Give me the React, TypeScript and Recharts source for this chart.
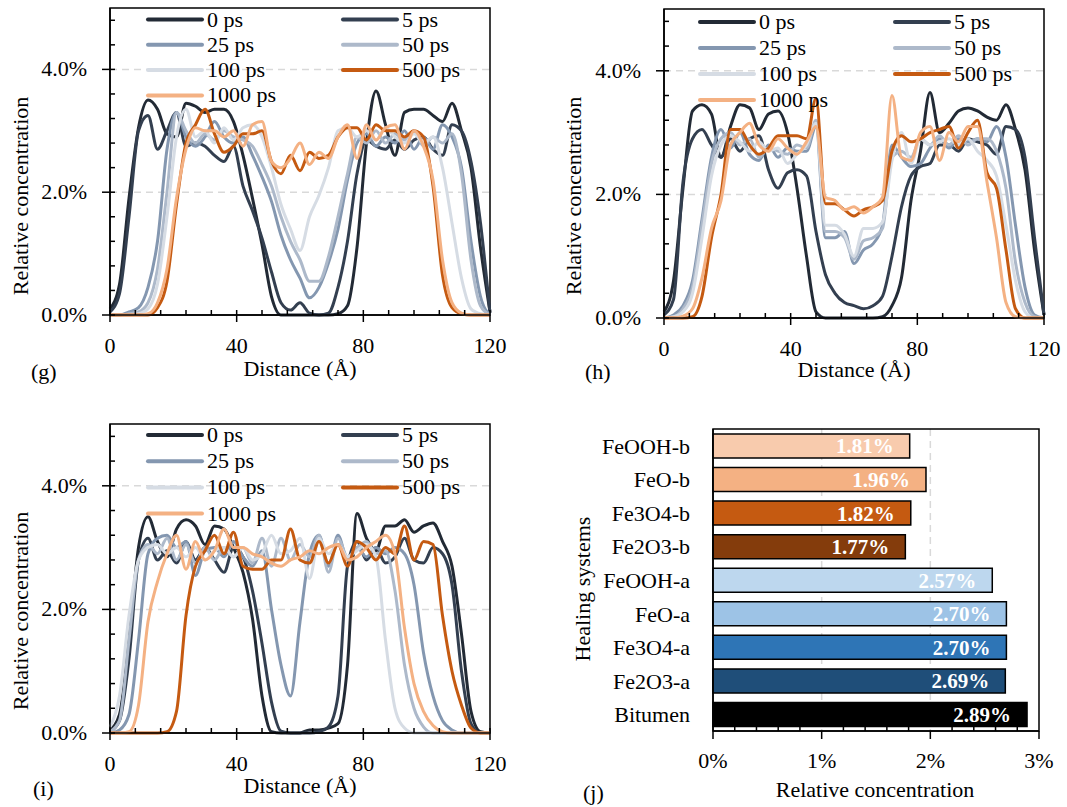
import React from 'react';
import {
  LineChart,
  Line,
  XAxis,
  YAxis,
  CartesianGrid,
  ReferenceArea,
  BarChart,
  Bar,
  Cell,
  LabelList,
} from 'recharts';

const FONT = '"Liberation Serif", "Times New Roman", serif';

// ---------- shared axis values ----------
const DISTANCE = [0, 3, 6, 9, 12, 15, 18, 21, 24, 27, 30, 33, 36, 39, 42, 45, 48, 51, 54, 57, 60, 63, 66, 69, 72, 75, 78, 81, 84, 87, 90, 93, 96, 99, 102, 105, 108, 111, 114, 117, 120];
const X_TICKS = [0, 8, 16, 24, 32, 40, 48, 56, 64, 72, 80, 88, 96, 104, 112, 120];
const Y_TICKS = [0, 0.4, 0.8, 1.2, 1.6, 2, 2.4, 2.8, 3.2, 3.6, 4, 4.4, 4.8];
const TIME_LABELS = ['0 ps', '5 ps', '25 ps', '50 ps', '100 ps', '500 ps', '1000 ps'];
const TIME_COLORS = ['#222A35', '#333F50', '#8497B0', '#ADB9CA', '#D6DCE4', '#C55A11', '#F4B183'];

// ---------- panel (g) ----------
const G_0PS = [0.1, 0.5, 1.9, 3.05, 3.5, 3.35, 2.95, 2.9, 3.45, 3.4, 3.3, 3.35, 3.35, 3.15, 2.6, 1.9, 1.15, 0.3, 0, 0, 0, 0, 0, 0, 0.02, 0.15, 1.1, 2.8, 3.65, 3.1, 2.6, 3.3, 3.35, 3.35, 3.25, 3.15, 3.45, 3.0, 2.4, 1.1, 0.05];
const G_5PS = [0.05, 0.35, 1.6, 3.0, 3.25, 2.7, 3.0, 3.3, 2.75, 2.8, 2.75, 2.6, 2.5, 2.75, 2.1, 1.7, 1.25, 0.7, 0.2, 0.08, 0.2, 0.03, 0, 0.03, 0.45, 1.2, 2.3, 2.85, 2.75, 2.7, 2.85, 2.7, 2.85, 2.9, 2.7, 2.6, 3.1, 3.0, 2.5, 1.5, 0.03];
const G_25PS = [0, 0, 0.05, 0.12, 0.45, 1.2, 2.7, 3.3, 2.9, 2.75, 2.9, 3.15, 2.9, 2.8, 2.9, 2.6, 2.25, 1.85, 1.3, 0.9, 0.6, 0.28, 0.45, 0.85, 1.4, 2.2, 2.8, 2.95, 2.75, 2.9, 2.8, 3.0, 2.7, 2.9, 2.7, 3.1, 2.9, 2.4, 1.2, 0.3, 0];
const G_50PS = [0, 0, 0.02, 0.05, 0.2, 0.75, 2.0, 3.3, 3.0, 2.8, 2.95, 2.85, 3.0, 2.9, 2.85, 2.75, 2.45, 2.1, 1.6, 1.2, 0.9, 0.55, 0.55, 0.95, 1.6, 2.3, 2.9, 2.8, 3.0, 2.8, 2.95, 2.85, 3.0, 2.75, 2.9, 2.8, 2.95, 2.3, 0.9, 0.15, 0];
const G_100PS = [0, 0, 0, 0.02, 0.1, 0.5, 1.6, 2.9, 3.35, 2.9, 3.0, 2.8, 3.05, 2.85, 3.05, 3.1, 2.9, 2.4, 1.8, 1.4, 1.05, 1.6, 1.95, 2.4, 3.0, 3.05, 2.9, 3.0, 2.85, 3.05, 2.9, 2.8, 2.95, 2.8, 2.9, 2.4, 1.5, 0.6, 0.1, 0.02, 0];
const G_500PS = [0, 0, 0, 0, 0, 0.12, 0.55, 1.8, 2.8, 3.1, 3.35, 2.95, 2.65, 2.75, 2.95, 2.95, 3.0, 2.5, 2.3, 2.6, 2.35, 2.65, 2.55, 2.6, 2.9, 3.05, 3.05, 2.85, 3.1, 3.0, 3.0, 2.9, 3.0, 2.9, 2.1, 0.65, 0.12, 0.02, 0, 0, 0];
const G_1000PS = [0, 0, 0, 0, 0.02, 0.2, 0.75, 1.9, 2.7, 3.05, 3.0, 3.0, 2.9, 3.0, 2.75, 3.1, 3.15, 2.5, 2.4, 2.55, 2.8, 2.45, 2.65, 2.55, 2.9, 3.1, 2.55, 3.1, 2.85, 3.05, 3.1, 2.7, 3.0, 2.75, 2.2, 0.9, 0.2, 0.03, 0, 0, 0];

// ---------- panel (h) ----------
const H_0PS = [0.1, 0.6, 2.1, 3.35, 3.45, 3.3, 2.6, 3.1, 3.45, 3.4, 3.05, 3.3, 3.35, 3.0, 2.1, 1.0, 0.1, 0, 0, 0, 0, 0, 0, 0.02, 0.2, 0.65, 1.9, 2.7, 3.65, 3.0, 3.15, 3.35, 3.4, 3.35, 3.25, 3.2, 3.45, 3.05, 2.4, 1.1, 0.05];
const H_5PS = [0.05, 0.3, 2.2, 2.9, 3.05, 2.8, 2.6, 2.9, 2.7, 2.9, 2.95, 2.4, 2.1, 2.35, 2.4, 2.3, 1.4, 0.7, 0.4, 0.25, 0.2, 0.15, 0.2, 0.35, 1.0, 1.8, 2.3, 2.45, 2.5, 2.8, 2.8, 2.7, 2.9, 2.85, 2.8, 2.65, 3.1, 3.05, 2.6, 1.3, 0.05];
const H_25PS = [0, 0.05, 0.2, 0.6, 1.6, 2.6, 3.05, 2.75, 3.0, 2.65, 2.55, 2.8, 2.6, 2.75, 2.7, 2.7, 3.1, 1.3, 1.3, 1.4, 0.88, 1.1, 1.2, 1.5, 2.8, 2.6, 2.45, 2.5, 2.75, 2.9, 2.75, 2.9, 2.85, 2.9, 2.85, 3.1, 2.6, 1.5, 0.5, 0.05, 0];
const H_50PS = [0, 0.02, 0.15, 0.5, 1.5, 2.5, 2.9, 3.0, 2.8, 2.9, 2.6, 2.75, 2.7, 2.65, 2.8, 2.75, 3.2, 1.4, 1.4, 1.3, 0.95, 1.25, 1.3, 1.45, 2.6, 2.7, 2.6, 2.9, 2.8, 2.95, 2.8, 2.95, 2.8, 2.9, 2.9, 2.7, 2.1, 0.9, 0.25, 0.02, 0];
const H_100PS = [0, 0.02, 0.1, 0.4, 1.3, 2.3, 2.8, 2.95, 2.85, 2.7, 2.85, 2.7, 2.75, 2.5, 2.65, 2.8, 3.15, 1.5, 1.5, 1.35, 1.0, 1.45, 1.45, 1.55, 2.55, 3.0, 2.5, 2.9, 2.8, 2.85, 2.9, 2.8, 2.9, 2.7, 2.55, 2.3, 1.5, 0.6, 0.1, 0, 0];
const H_500PS = [0, 0, 0, 0.02, 0.35, 1.3, 2.0, 3.05, 3.05, 2.8, 2.65, 2.75, 2.95, 2.95, 2.95, 2.9, 3.55, 1.85, 1.85, 1.75, 1.65, 1.75, 1.8, 1.9, 2.7, 2.95, 2.85, 2.9, 3.0, 3.05, 3.1, 2.75, 3.0, 3.2, 2.35, 2.1, 1.1, 0.15, 0, 0, 0];
const H_1000PS = [0, 0, 0.03, 0.15, 0.65, 1.45, 1.9, 2.8, 3.0, 3.15, 2.8, 2.7, 2.9, 2.75, 2.65, 2.85, 3.1, 1.95, 1.9, 1.75, 1.8, 1.7, 1.8, 1.95, 3.6, 2.6, 2.55, 3.0, 3.1, 2.55, 3.0, 2.85, 3.1, 3.1, 2.2, 1.3, 0.25, 0.02, 0, 0, 0];

// ---------- panel (i) ----------
const I_0PS = [0.05, 0.3, 1.5, 3.0, 3.5, 3.1, 2.85, 3.3, 3.45, 3.35, 3.05, 3.35, 3.3, 3.0, 2.6, 1.85, 0.6, 0.02, 0, 0, 0, 0.05, 0.05, 0.08, 0.15, 1.1, 3.55, 3.15, 2.95, 3.35, 3.35, 3.45, 3.25, 3.35, 3.4, 3.1, 2.7, 1.6, 0.35, 0.02, 0];
const I_5PS = [0.02, 0.2, 1.2, 2.8, 3.15, 2.8, 2.95, 2.75, 3.1, 2.8, 3.0, 2.8, 2.6, 3.0, 2.85, 2.3, 1.45, 0.5, 0.03, 0, 0, 0, 0.02, 0.1, 0.6, 2.7, 3.1, 2.8, 3.0, 2.75, 2.85, 3.15, 2.8, 2.75, 3.0, 2.9, 2.4, 1.0, 0.15, 0, 0];
const I_25PS = [0, 0.05, 0.3, 1.5, 2.9, 3.15, 3.2, 3.0, 3.1, 2.55, 2.95, 3.0, 2.85, 3.1, 2.85, 2.7, 2.95, 2.0, 1.1, 0.6, 1.8, 2.9, 3.2, 2.7, 3.2, 2.8, 3.0, 2.85, 3.0, 2.9, 3.0, 2.9, 2.4, 1.3, 0.6, 0.2, 0.05, 0, 0, 0, 0];
const I_50PS = [0.02, 0.2, 1.5, 2.8, 3.05, 2.9, 3.15, 2.8, 3.05, 2.75, 3.0, 2.8, 3.0, 2.85, 3.0, 2.75, 3.15, 2.7, 3.15, 2.8, 3.05, 2.85, 3.2, 2.6, 3.15, 2.85, 3.0, 3.1, 2.9, 2.95, 2.3, 1.1, 0.4, 0.1, 0, 0, 0, 0, 0, 0, 0];
const I_100PS = [0.1, 0.6, 1.9, 2.8, 3.0, 3.05, 2.9, 3.0, 2.85, 3.0, 2.8, 2.95, 3.0, 2.85, 3.0, 2.8, 2.9, 3.2, 2.9, 2.95, 3.15, 2.5, 3.15, 2.9, 3.05, 2.85, 2.95, 3.05, 2.85, 1.5, 0.4, 0.08, 0, 0, 0, 0, 0, 0, 0, 0, 0];
const I_500PS = [0, 0, 0, 0, 0, 0, 0.02, 0.35, 1.9, 2.7, 2.95, 3.2, 2.9, 3.25, 2.7, 2.65, 2.65, 2.8, 2.8, 3.3, 2.8, 2.75, 3.1, 2.75, 3.05, 2.7, 3.1, 3.0, 2.8, 3.0, 2.9, 3.35, 2.8, 3.1, 3.05, 1.9, 1.0, 0.45, 0.08, 0, 0];
const I_1000PS = [0, 0, 0.02, 0.45, 1.8, 2.45, 2.9, 3.2, 2.65, 3.1, 2.8, 2.95, 3.3, 3.0, 3.0, 2.9, 2.85, 2.75, 2.7, 2.8, 2.85, 2.95, 2.9, 3.0, 3.05, 2.8, 2.85, 3.0, 3.1, 3.2, 2.9, 1.7, 0.8, 0.35, 0.12, 0.02, 0, 0, 0, 0, 0];

// ---------- panel (j) ----------
const SYSTEMS = ['FeOOH-b', 'FeO-b', 'Fe3O4-b', 'Fe2O3-b', 'FeOOH-a', 'FeO-a', 'Fe3O4-a', 'Fe2O3-a', 'Bitumen'];
const SYSTEM_VALUES = [1.81, 1.96, 1.82, 1.77, 2.57, 2.7, 2.7, 2.69, 2.89];
const SYSTEM_COLORS = ['#F8CBAD', '#F4B183', '#C55A11', '#843C0C', '#BDD7EE', '#9DC3E6', '#2E75B6', '#1F4E79', '#000000'];
const BAR_X_TICKS = [0, 0.2, 0.4, 0.6, 0.8, 1, 1.2, 1.4, 1.6, 1.8, 2, 2.2, 2.4, 2.6, 2.8, 3];

const SERIES_KEYS = ['s0', 's5', 's25', 's50', 's100', 's500', 's1000'];

function buildRows(series: number[][]) {
  return DISTANCE.map((d, i) => {
    const row: Record<string, number> = { d };
    SERIES_KEYS.forEach((k, j) => {
      row[k] = series[j][i];
    });
    return row;
  });
}

const G_DATA = buildRows([G_0PS, G_5PS, G_25PS, G_50PS, G_100PS, G_500PS, G_1000PS]);
const H_DATA = buildRows([H_0PS, H_5PS, H_25PS, H_50PS, H_100PS, H_500PS, H_1000PS]);
const I_DATA = buildRows([I_0PS, I_5PS, I_25PS, I_50PS, I_100PS, I_500PS, I_1000PS]);
const BAR_DATA = SYSTEMS.map((name, i) => ({ name, value: SYSTEM_VALUES[i] }));

const TXT = { fontFamily: FONT, fontSize: 22, fill: '#000' };

const renderLineYTick = (p: any) => {
  const v = Number(p.payload.value);
  const major = Math.abs(v / 2 - Math.round(v / 2)) < 1e-6;
  return (
    <g>
      <line x1={major ? p.x - 8 : p.x} x2={p.x + 5} y1={p.y} y2={p.y} stroke="#000" strokeWidth={1.5} />
      {major && (
        <text x={p.x - 23} y={p.y + 7} textAnchor="end" {...TXT}>
          {v.toFixed(1)}%
        </text>
      )}
    </g>
  );
};

const renderLineXTick = (p: any) => {
  const v = Number(p.payload.value);
  const major = v % 40 === 0;
  return (
    <g>
      <line x1={p.x} x2={p.x} y1={p.y - 5} y2={major ? p.y + 7 : p.y} stroke="#000" strokeWidth={1.5} />
      {major && (
        <text x={p.x} y={p.y + 38} textAnchor="middle" {...TXT}>
          {v}
        </text>
      )}
    </g>
  );
};

const renderBarXTick = (p: any) => {
  const v = Number(p.payload.value);
  const major = Math.abs(v - Math.round(v)) < 1e-6;
  return (
    <g>
      <line x1={p.x} x2={p.x} y1={major ? p.y : p.y - 5} y2={major ? p.y + 8 : p.y} stroke="#000" strokeWidth={1.5} />
      {major && (
        <text x={p.x} y={p.y + 37} textAnchor="middle" {...TXT}>
          {Math.round(v)}%
        </text>
      )}
    </g>
  );
};

const renderBarYTick = (p: any) => (
  <g>
    <text x={p.x - 23} y={p.y + 8} textAnchor="end" {...TXT}>
      {p.payload.value}
    </text>
  </g>
);

function ConcentrationChart(props: { data: any[]; width: number; height: number; top: number; right: number; xHeight: number }) {
  const { data, width, height, top, right, xHeight } = props;
  return (
    <LineChart width={width} height={height} data={data} margin={{ top, right, bottom: 0, left: 0 }}>
      <CartesianGrid vertical={false} horizontalValues={[2, 4]} stroke="#D9D9D9" strokeDasharray="7 5" strokeWidth={1.5} />
      <XAxis
        dataKey="d"
        type="number"
        domain={[0, 120]}
        ticks={X_TICKS}
        interval={0}
        tickSize={0}
        tickMargin={0}
        tickLine={false}
        axisLine={{ stroke: '#000', strokeWidth: 1.5 }}
        tick={renderLineXTick}
        height={xHeight}
      />
      <YAxis
        type="number"
        domain={[0, 5]}
        ticks={Y_TICKS}
        interval={0}
        tickSize={0}
        tickMargin={0}
        tickLine={false}
        axisLine={{ stroke: '#000', strokeWidth: 1.5 }}
        tick={renderLineYTick}
        width={110}
      />
      <ReferenceArea x1={0} x2={120} y1={0} y2={5} fill="none" fillOpacity={0} stroke="#000" strokeWidth={1.5} />
      {SERIES_KEYS.map((k, i) => (
        <Line
          key={k}
          dataKey={k}
          name={TIME_LABELS[i]}
          type="monotone"
          stroke={TIME_COLORS[i]}
          strokeWidth={3}
          dot={false}
          activeDot={false}
          isAnimationActive={false}
        />
      ))}
    </LineChart>
  );
}

function LegendBlock(props: { left: number; top: number; gap: number }) {
  const { left, top, gap } = props;
  return (
    <g>
      {TIME_LABELS.map((label, i) => {
        const lx = left + (i % 2) * 195;
        const ly = top + Math.floor(i / 2) * gap;
        return (
          <g key={label}>
            <line x1={lx} x2={lx + 54} y1={ly} y2={ly} stroke={TIME_COLORS[i]} strokeWidth={4} strokeLinecap="round" />
            <text x={lx + 59} y={ly + 7} {...TXT}>
              {label}
            </text>
          </g>
        );
      })}
    </g>
  );
}

export default function App() {
  return (
    <div style={{ position: 'absolute', left: 0, top: 0, width: 1067, height: 807, background: '#fff', fontFamily: FONT, overflow: 'hidden' }}>
      <svg width={1067} height={807} style={{ position: 'absolute', left: 0, top: 0 }}>
        <text transform="translate(28,196) rotate(-90)" textAnchor="middle" {...TXT}>Relative concentration</text>
        <text x={300} y={376} textAnchor="middle" {...TXT}>Distance (Å)</text>
        <text x={31} y={379} {...TXT}>(g)</text>

        <text transform="translate(581,196) rotate(-90)" textAnchor="middle" {...TXT}>Relative concentration</text>
        <text x={854} y={377} textAnchor="middle" {...TXT}>Distance (Å)</text>
        <text x={585} y={379} {...TXT}>(h)</text>

        <text transform="translate(28,611) rotate(-90)" textAnchor="middle" {...TXT}>Relative concentration</text>
        <text x={300} y={793} textAnchor="middle" {...TXT}>Distance (Å)</text>
        <text x={33} y={796} {...TXT}>(i)</text>

        <text transform="translate(590,589) rotate(-90)" textAnchor="middle" {...TXT}>Healing systems</text>
        <text x={875} y={797} textAnchor="middle" {...TXT}>Relative concentration</text>
        <text x={583} y={800} {...TXT}>(j)</text>
      </svg>

      <div style={{ position: 'absolute', left: 0, top: 0 }}>
        <ConcentrationChart data={G_DATA} width={520} height={400} top={8} right={30} xHeight={85} />
      </div>
      <div style={{ position: 'absolute', left: 554, top: 0 }}>
        <ConcentrationChart data={H_DATA} width={513} height={400} top={9} right={23} xHeight={82} />
      </div>
      <div style={{ position: 'absolute', left: 0, top: 410 }}>
        <ConcentrationChart data={I_DATA} width={520} height={397} top={14} right={30} xHeight={74} />
      </div>

      <div style={{ position: 'absolute', left: 560, top: 410 }}>
        <BarChart width={507} height={397} data={BAR_DATA} layout="vertical" margin={{ top: 19, right: 28, bottom: 0, left: 0 }}>
          <CartesianGrid horizontal={false} verticalValues={[1, 2]} stroke="#D9D9D9" strokeDasharray="7 5" strokeWidth={1.5} />
          <XAxis
            type="number"
            domain={[0, 3]}
            ticks={BAR_X_TICKS}
            interval={0}
            tickSize={0}
            tickMargin={0}
            tickLine={false}
            axisLine={{ stroke: '#000', strokeWidth: 1.5 }}
            tick={renderBarXTick}
            height={76}
          />
          <YAxis
            type="category"
            dataKey="name"
            interval={0}
            tickSize={0}
            tickMargin={0}
            tickLine={false}
            axisLine={{ stroke: '#000', strokeWidth: 1.5 }}
            tick={renderBarYTick}
            width={153}
          />
          <ReferenceArea x1={0} x2={3} fill="none" fillOpacity={0} stroke="#000" strokeWidth={1.5} />
          <Bar dataKey="value" barSize={24} stroke="#000" strokeWidth={1.5} isAnimationActive={false}>
            {BAR_DATA.map((row, i) => (
              <Cell key={row.name} fill={SYSTEM_COLORS[i]} />
            ))}
            <LabelList
              dataKey="value"
              position="insideRight"
              offset={16}
              formatter={(v: any) => `${Number(v).toFixed(2)}%`}
              fill="#fff"
              fontSize={21}
              fontWeight="bold"
              fontFamily={FONT}
            />
          </Bar>
        </BarChart>
      </div>

      <svg width={1067} height={807} style={{ position: 'absolute', left: 0, top: 0, pointerEvents: 'none' }}>
        <LegendBlock left={148} top={19.5} gap={25.3} />
        <LegendBlock left={700} top={22} gap={26} />
        <LegendBlock left={148} top={435} gap={26.2} />
      </svg>
    </div>
  );
}
